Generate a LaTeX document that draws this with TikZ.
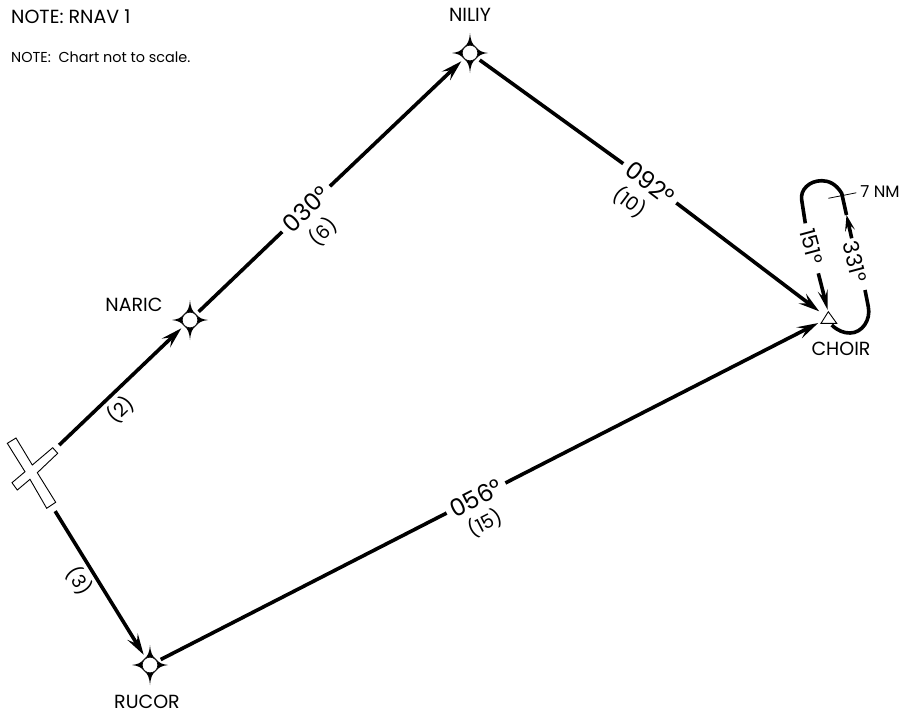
\documentclass[tikz,border=0pt]{standalone}
\usepackage{fontspec}
\setmainfont{Poppins}
\usetikzlibrary{arrows.meta}
\newcommand{\fsA}{\fontsize{19}{22}\selectfont}
\newcommand{\fsB}{\fontsize{14.4}{17}\selectfont}
\newcommand{\fsC}{\fontsize{24}{27}\selectfont}
\newcommand{\fsD}{\fontsize{16.5}{19}\selectfont}
\newcommand{\fsE}{\fontsize{21.5}{24}\selectfont}
\tikzset{
  x=1pt,y=-1pt,
  route/.style={line width=3.6pt,black},
  tipped/.style={route,-{Stealth[length=21pt,width=12pt,inset=8pt]}},
  waypoint/.style={circle,minimum size=24pt,inner sep=0pt,outer sep=0pt},
  wpname/.style={inner sep=0pt,font=\fsA},
  legbig/.style={inner sep=0pt,outer sep=0pt,font=\fsC,minimum width=66pt,minimum height=16pt},
  legsmall/.style={inner sep=0pt,font=\fsA},
  legside/.style={inner sep=0pt,font=\fsE},
  note/.style={inner sep=0pt,anchor=west},
  star/.pic={
    \fill[black] (0,-20) .. controls (0.8,-12) and (2,-9) .. (6,-6)
      .. controls (9,-2) and (12,-0.8) .. (18,0)
      .. controls (12,0.8) and (9,2) .. (6,6)
      .. controls (2,9) and (0.8,12) .. (0,20)
      .. controls (-0.8,12) and (-2,9) .. (-6,6)
      .. controls (-9,2) and (-12,0.8) .. (-18,0)
      .. controls (-12,-0.8) and (-9,-2) .. (-6,-6)
      .. controls (-2,-9) and (-0.8,-12) .. (0,-20) -- cycle;
    \draw[fill=white,line width=0.6pt] (0,0) circle (7.8);
  }
}
\begin{document}
\begin{tikzpicture}
\useasboundingbox (0,0) rectangle (901,713);
\fill[white] (0,0) rectangle (901,713);
% notes
\node[note,font=\fsA] (n1) at (11,17) {NOTE: RNAV 1};
\node[note,font=\fsB] (n2) at (11,57) {NOTE:\ \ Chart not to scale.};
% fixes
\node[waypoint] (naric) at (190,320) {};
\node[waypoint] (niliy) at (470,53) {};
\node[waypoint] (rucor) at (150,665) {};
\node[circle,minimum size=22pt,inner sep=0pt,outer sep=0pt] (choir) at (828,318) {};
\node[circle,minimum size=78pt,inner sep=0pt,outer sep=0pt] (start) at (31,472) {};
\pic at (naric) {star};
\pic at (niliy) {star};
\pic at (rucor) {star};
\draw[line width=0.9pt,fill=white] (828.3,311.7) -- (836.7,323.3) -- (821,323.3) -- cycle;
\draw[line width=0.9pt,fill=white] (7.3,443.3) -- (16,438) -- (32.3,465) -- (52.7,447.7) -- (57.7,453.3) -- (37.3,472.7) -- (55.7,502.3) -- (46.7,508.3) -- (30,479.3) -- (17.3,490) -- (12,482.7) -- (25,471.7) -- cycle;
% names
\node[wpname] (tnaric) at (134,305) {NARIC};
\node[wpname] (tniliy) at (470,15) {NILIY};
\node[wpname] (trucor) at (147,702) {RUCOR};
\node[wpname] (tchoir) at (841,349) {CHOIR};
% big leg labels
\node[legbig,rotate=44] (l030) at (306,209) {030°};
\node[legbig,rotate=-37] (l092) at (650,183) {092°};
\node[legbig,rotate=27] (l056) at (476,498) {056°};
% small leg labels
\node[legsmall,rotate=44] (l6) at (323,232) {(6)};
\node[legsmall,rotate=-37] (l10) at (630,202) {(10)};
\node[legsmall,rotate=27] (l15) at (485,523) {(15)};
\node[legsmall,rotate=44] (l2) at (120.7,410) {(2)};
\node[legsmall,rotate=-57] (l3) at (79.3,581) {(3)};
% connectors
\draw[tipped] (start) -- (naric);
\draw[route] (naric) -- (l030);
\draw[tipped] (l030) -- (niliy);
\draw[route] (niliy) -- (l092);
\draw[tipped] (l092) -- (choir);
\draw[tipped,shorten <=7pt] (start) -- (rucor);
\draw[route] (rucor) -- (l056);
\draw[tipped] (l056) -- (choir);
% holding pattern
\coordinate (h1) at (865,290);
\coordinate (h2) at (851.7,238.3);
\coordinate (h3) at (846.5,215);
\coordinate (h4) at (841.7,193.3);
\coordinate (h5) at (805.3,223.3);
\coordinate (h6) at (818.3,273.3);
\coordinate (h7) at (827.7,310);
\coordinate (h0) at (831.7,325);
\draw[route] (h0) .. controls (838,331) and (844,333) .. (850,333)
   .. controls (862,333) and (871,320) .. (868.3,306.7) -- (h1);
\draw[route,-{Stealth[length=16pt,width=10pt,inset=7pt]}] (h2) -- (h3);
\draw[route] (h3) -- (h4) .. controls (836,184) and (829,180.7) .. (821.7,180.7)
   .. controls (809,180.7) and (800,190) .. (801.7,200) -- (h5);
\draw[route,-{Stealth[length=20pt,width=10pt,inset=8pt]}] (h6) -- (h7);
\node[legside,rotate=-75] (l151) at (811.7,246.7) {151°};
\node[legside,rotate=-75] (l331) at (855,261.7) {331°};
\node[inner sep=0pt,font=\fsD] (t7) at (880,192) {7 NM};
\coordinate (tk1) at (828.3,198.3);
\draw[line width=0.8pt,shorten >=4pt] (tk1) -- (t7.west);
\end{tikzpicture}
\end{document}
